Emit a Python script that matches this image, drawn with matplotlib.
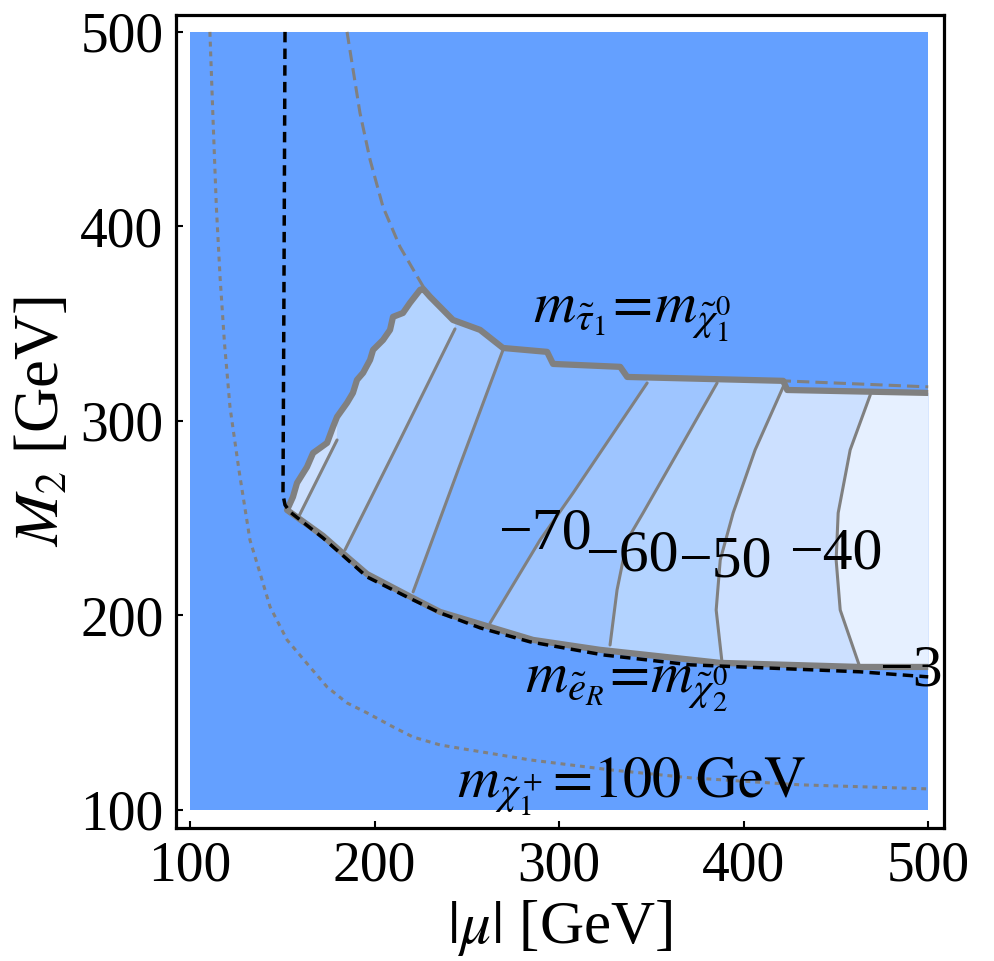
import numpy as np
import matplotlib
matplotlib.use("Agg")
import matplotlib.pyplot as plt
from matplotlib.patches import Polygon

plt.rcParams["font.family"] = ["Liberation Serif", "DejaVu Serif"]
plt.rcParams["mathtext.fontset"] = "stix"

# m_chargino = 100 GeV (gray dotted)
cha_mu = [110.8, 112.5, 114.3, 116.3, 118.7, 121.7, 126.5, 132.5, 137.9, 143.4, 152.6, 165.0,
          174.3, 185.1, 195.9, 210.0, 220.8, 235.5, 251.8, 284.3, 327.6, 371.0, 430.6, 500.0]
cha_m2 = [500.0, 455.0, 410.0, 374.0, 340.0, 307.0, 275.0, 238.8, 221.9, 204.4, 187.4, 173.5,
          163.2, 155.0, 149.9, 142.7, 137.5, 133.4, 130.8, 125.7, 120.6, 116.5, 112.9, 110.8]

# m_eR = m_chi2 (black dashed)
sel_mu = [151.5, 150.9, 150.4, 151.5, 154.2, 172.1, 181.3, 195.9, 217.6, 235.5, 257.2, 284.3,
          323.8, 371.0, 463.1, 500.0]
sel_m2 = [500.0, 362.2, 262.0, 256.8, 253.2, 239.8, 232.1, 219.8, 209.5, 201.3, 193.6, 186.4,
          179.7, 174.6, 171.0, 168.4]

# m_stau = m_chi1 (gray dashed)
stau_mu = [185.1, 192.1, 197.6, 204.6, 213.8, 223.6, 227.4, 242.5, 257.2, 269.6, 293.5, 296.7,
           333.1, 336.9, 421.4, 500.0]
stau_m2 = [500.0, 458.4, 434.2, 410.0, 389.5, 373.5, 367.4, 351.9, 346.8, 337.5, 335.5, 329.3,
           327.8, 322.6, 320.6, 317.5]

# allowed region: left edge (bottom -> top), top edge (left -> right), bottom edge (right -> left)
left_mu = [152.6, 155.8, 158.0, 163.4, 166.7, 174.3, 177.5, 179.7, 185.1, 188.3, 190.5, 193.8,
           197.6, 199.2, 204.6, 208.4, 210.0, 215.4, 219.2, 224.7]
left_m2 = [254.2, 260.9, 268.1, 276.3, 283.5, 288.7, 296.9, 302.1, 309.3, 314.4, 321.1, 324.7,
           331.4, 336.5, 341.6, 346.8, 353.5, 355.5, 360.7, 367.4]
top_mu = [226.3, 230.1, 242.5, 257.2, 269.6, 293.5, 296.7, 333.1, 336.9, 421.4, 423.6, 500.0]
top_m2 = [367.9, 363.8, 351.9, 346.8, 337.5, 335.5, 329.3, 327.8, 322.6, 320.6, 315.9, 314.4]
bot_mu = [500.0, 463.1, 387.3, 322.2, 285.9, 268.0, 235.5, 217.6, 195.9, 181.3, 172.1]
bot_m2 = [173.5, 173.5, 175.6, 182.3, 187.4, 192.5, 201.8, 210.5, 221.3, 233.2, 240.9]

# contour lines, top -> bottom
c50l_mu = [179.7, 158.5]
c50l_m2 = [290.2, 250.0]
c60l_mu = [243.6, 213.8, 184.0]
c60l_m2 = [347.3, 290.2, 233.7]
c70l_mu = [269.6, 245.3, 220.9]
c70l_m2 = [336.5, 274.8, 212.1]
c70r_mu = [347.7, 307.6, 289.7, 262.6]
c70r_m2 = [319.5, 263.0, 238.8, 196.1]
c60r_mu = [385.6, 365.6, 345.5, 336.9, 331.4, 327.6]
c60r_m2 = [319.5, 286.1, 252.7, 238.8, 213.1, 184.8]
c50r_mu = [421.4, 406.2, 394.3, 387.3, 385.1, 388.3]
c50r_m2 = [317.5, 285.1, 252.7, 228.5, 202.8, 175.6]
c40_mu = [468.6, 457.7, 451.2, 450.1, 452.3, 463.1]
c40_m2 = [313.4, 285.1, 252.7, 228.5, 202.8, 173.0]

label_vals = [-70, -60, -50, -40, -30]
label_mu = [292.4, 339.6, 390.0, 449.6, 498.4]
label_m2 = [241.4, 230.1, 227.0, 231.1, 171.0]

bg = "#64A0FF"
band = ["#80B3FF", "#9EC5FF", "#B3D3FF", "#CCE0FF", "#E6F0FF"]
grey = "#808080"

fig = plt.figure(figsize=(9.94, 9.61), dpi=100)
ax = fig.add_axes([0.177, 0.1384, 0.773, 0.846])
ax.set_xlim(92.4, 508.7)
ax.set_ylim(90.7, 508.7)

ax.fill_between([100, 500], 100, 500, color=bg, lw=0, zorder=0.5)

reg_mu = left_mu + top_mu + bot_mu
reg_m2 = left_m2 + top_m2 + bot_m2
region = Polygon(np.column_stack([reg_mu, reg_m2]), closed=True,
                 facecolor=band[0], edgecolor="none", zorder=1)
ax.add_patch(region)


def side_fill(mu, m2, color, right=True):
    edge = 500 if right else 100
    xs = list(mu) + [mu[-1], edge, edge, mu[0]]
    ys = list(m2) + [100, 100, 500, 500]
    p = ax.fill(xs, ys, color=color, lw=0, zorder=1.2)[0]
    p.set_clip_path(region)


side_fill(c70r_mu, c70r_m2, band[1])
side_fill(c60r_mu, c60r_m2, band[2])
side_fill(c50r_mu, c50r_m2, band[3])
side_fill(c40_mu, c40_m2, band[4])
side_fill(c70l_mu, c70l_m2, band[1], right=False)
side_fill(c60l_mu, c60l_m2, band[2], right=False)
side_fill(c50l_mu, c50l_m2, band[3], right=False)

for mu, m2 in [(c50l_mu, c50l_m2), (c60l_mu, c60l_m2), (c70l_mu, c70l_m2), (c70r_mu, c70r_m2),
               (c60r_mu, c60r_m2), (c50r_mu, c50r_m2), (c40_mu, c40_m2)]:
    ln, = ax.plot(mu, m2, color=grey, lw=2.2, zorder=2, solid_capstyle="round")
    ln.set_clip_path(region)

ax.plot(cha_mu, cha_m2, color=grey, lw=2.2, ls=(0, (1.6, 1.6)), zorder=4)
ax.plot(stau_mu, stau_m2, color=grey, lw=2.2, ls=(0, (4, 2)), zorder=2.5)

# region border, open at mu = 500
ax.plot(bot_mu + left_mu + top_mu, bot_m2 + left_m2 + top_m2, color=grey, lw=4.5, zorder=3,
        solid_joinstyle="round", solid_capstyle="butt")

ax.plot(sel_mu, sel_m2, color="black", lw=2.5, ls=(0, (3, 1.8)), zorder=4)

for v, x, y in zip(label_vals, label_mu, label_m2):
    ax.text(x, y, f"\u2212{abs(v)}", fontsize=43, ha="center", va="center", zorder=5,
            clip_on=True)

ax.text(285.9, 350.4, r"$m_{\tilde{\tau}_1}\!=\!m_{\tilde{\chi}_1^0}$", fontsize=42,
        ha="left", va="baseline", zorder=5)
ax.text(281.6, 160.2, r"$m_{\tilde{e}_R}\!=\!m_{\tilde{\chi}_2^0}$", fontsize=42,
        ha="left", va="baseline", zorder=5)
ax.text(244.7, 106.7, r"$m_{\tilde{\chi}_1^+}\!=\!100\ \mathrm{GeV}$", fontsize=42,
        ha="left", va="baseline", zorder=5)

ax.set_xticks([100, 200, 300, 400, 500])
ax.set_yticks([100, 200, 300, 400, 500])
ax.tick_params(direction="in", length=5, width=1.5, labelsize=40, pad=9,
               top=False, right=False)
for s in ax.spines.values():
    s.set_linewidth(2.3)
ax.set_xlabel(r"$|\mu|$ [GeV]", fontsize=44, labelpad=4)
ax.set_ylabel(r"$M_2$ [GeV]", fontsize=45, labelpad=6)

fig.savefig("out.png", dpi=100)
